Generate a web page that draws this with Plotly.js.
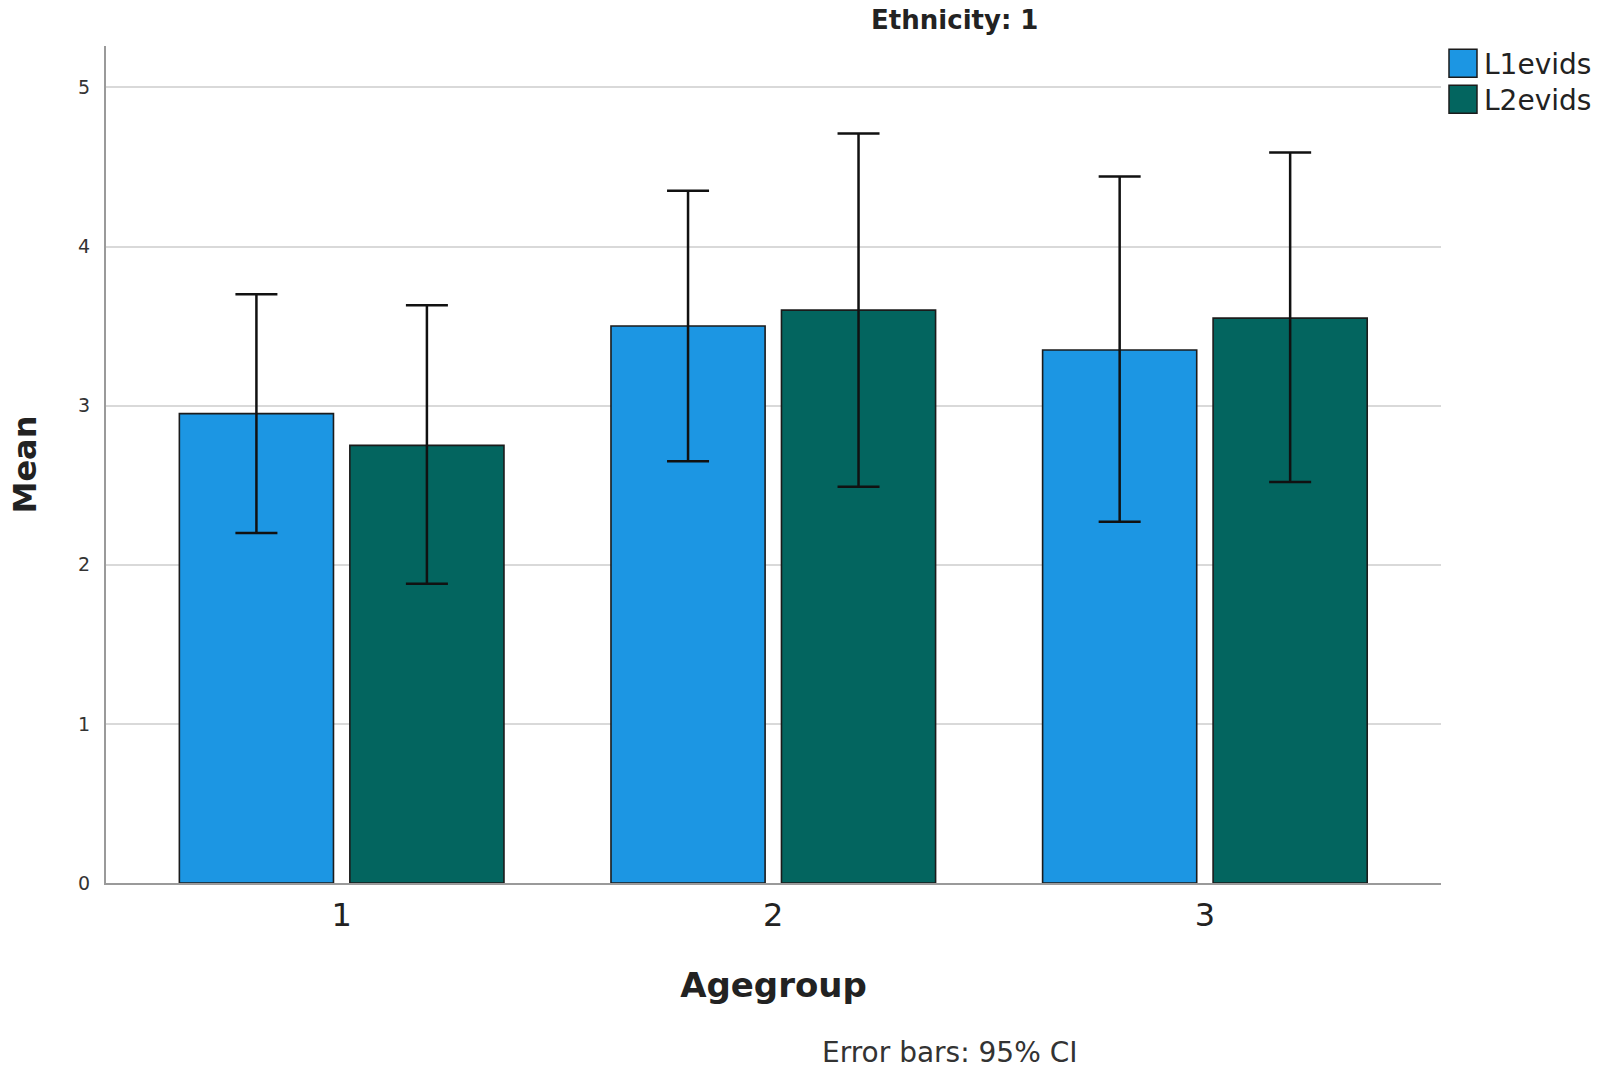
<!DOCTYPE html>
<html>
<head>
<meta charset="utf-8">
<script src="https://cdn.plot.ly/plotly-3.0.1.min.js"></script>
<style>html,body{margin:0;padding:0;background:#fff;}#chart{width:1602px;height:1073px;}</style>
</head>
<body>
<div id="chart"></div>
<script>
// Data
const categories = ["1", "2", "3"];
const l1Means = [2.95, 3.50, 3.35];
const l1Upper = [3.70, 4.35, 4.44];
const l1Lower = [2.20, 2.65, 2.27];
const l2Means = [2.75, 3.60, 3.55];
const l2Upper = [3.63, 4.71, 4.59];
const l2Lower = [1.88, 2.49, 2.52];
const seriesNames = ["L1evids", "L2evids"];
const yTicks = [0, 1, 2, 3, 4, 5];

const FONT = "DejaVu Sans, Verdana, sans-serif";
const up = (u, m) => u.map((v, i) => v - m[i]);
const dn = (l, m) => m.map((v, i) => v - l[i]);

function barTrace(name, means, upper, lower, color) {
  return {
    type: "bar",
    name: name,
    x: categories,
    y: means,
    marker: {color: color, line: {color: "#1b1b1b", width: 1.6}},
    error_y: {
      type: "data", symmetric: false,
      array: up(upper, means), arrayminus: dn(lower, means),
      color: "#111111", thickness: 2.5, width: 21
    },
    hoverinfo: "x+y+name"
  };
}

const data = [
  barTrace(seriesNames[0], l1Means, l1Upper, l1Lower, "#1c96e3"),
  barTrace(seriesNames[1], l2Means, l2Upper, l2Lower, "#03655f")
];

const layout = {
  width: 1602, height: 1073,
  margin: {l: 106, r: 154, t: 46, b: 190},
  paper_bgcolor: "#ffffff", plot_bgcolor: "#ffffff",
  font: {family: FONT, color: "#222222"},
  barmode: "group", bargap: 0.21, bargroupgap: 0.096,
  title: {
    text: "<b>Ethnicity: 1</b>",
    font: {family: FONT, size: 26, color: "#222222"},
    xref: "container", x: 0.596, xanchor: "center",
    yref: "container", y: 0.981, yanchor: "middle"
  },
  xaxis: {
    type: "category",
    range: [-0.546, 2.547],
    showline: true, linecolor: "#9a9a9a", linewidth: 2,
    showgrid: false, ticks: "", zeroline: false,
    ticklabelstandoff: 3,
    tickfont: {family: FONT, size: 32, color: "#222222"},
    title: {text: "<b>Agegroup</b>", font: {family: FONT, size: 34, color: "#222222"}, standoff: 40}
  },
  yaxis: {
    range: [0, 5.26],
    tickvals: yTicks,
    showline: true, linecolor: "#9a9a9a", linewidth: 2,
    showgrid: true, gridcolor: "#d9d9d9", gridwidth: 2,
    zeroline: false, ticks: "",
    ticklabelstandoff: 10,
    tickfont: {family: FONT, size: 19, color: "#333333"},
    title: {text: "<b>Mean</b>", font: {family: FONT, size: 32, color: "#222222"}, standoff: 32}
  },
  legend: {
    x: 0.997, xanchor: "left", y: 1.009, yanchor: "top",
    font: {family: FONT, size: 28, color: "#222222"},
    bgcolor: "rgba(0,0,0,0)", borderwidth: 0,
    tracegroupgap: 0, itemclick: false
  },
  annotations: [{
    text: "Error bars: 95% CI",
    xref: "paper", yref: "paper",
    x: 0.632, y: -0.203, xanchor: "center", yanchor: "middle",
    showarrow: false,
    font: {family: FONT, size: 28, color: "#333333"}
  }]
};

Plotly.newPlot("chart", data, layout, {displayModeBar: false, staticPlot: true}).then(function (gd) {
  // enlarge the legend swatches to match the reference's big squares
  document.querySelectorAll(".legend .legendpoints path").forEach(function (p) {
    p.setAttribute("d", "M14,14H-14V-14H14Z");
    p.setAttribute("transform", "translate(19,0)");
    p.style.strokeWidth = "1.5px";
  });
  // tighten the legend row spacing
  var rows = document.querySelectorAll(".legend .traces");
  var y0 = null;
  rows.forEach(function (t, i) {
    var m = /translate\(\s*([-\d.]+)[ ,]+([-\d.]+)\s*\)/.exec(t.getAttribute("transform") || "");
    if (!m) return;
    if (y0 === null) y0 = parseFloat(m[2]);
    t.setAttribute("transform", "translate(" + m[1] + "," + (y0 + 36 * i) + ")");
  });
  // nudge the whole legend slightly right, as in the reference
  var lg = document.querySelector(".legend");
  if (lg) {
    var m = /translate\(\s*([-\d.]+)[ ,]+([-\d.]+)\s*\)/.exec(lg.getAttribute("transform") || "");
    if (m) lg.setAttribute("transform", "translate(" + (parseFloat(m[1]) + 7) + "," + m[2] + ")");
  }
});
</script>
</body>
</html>
